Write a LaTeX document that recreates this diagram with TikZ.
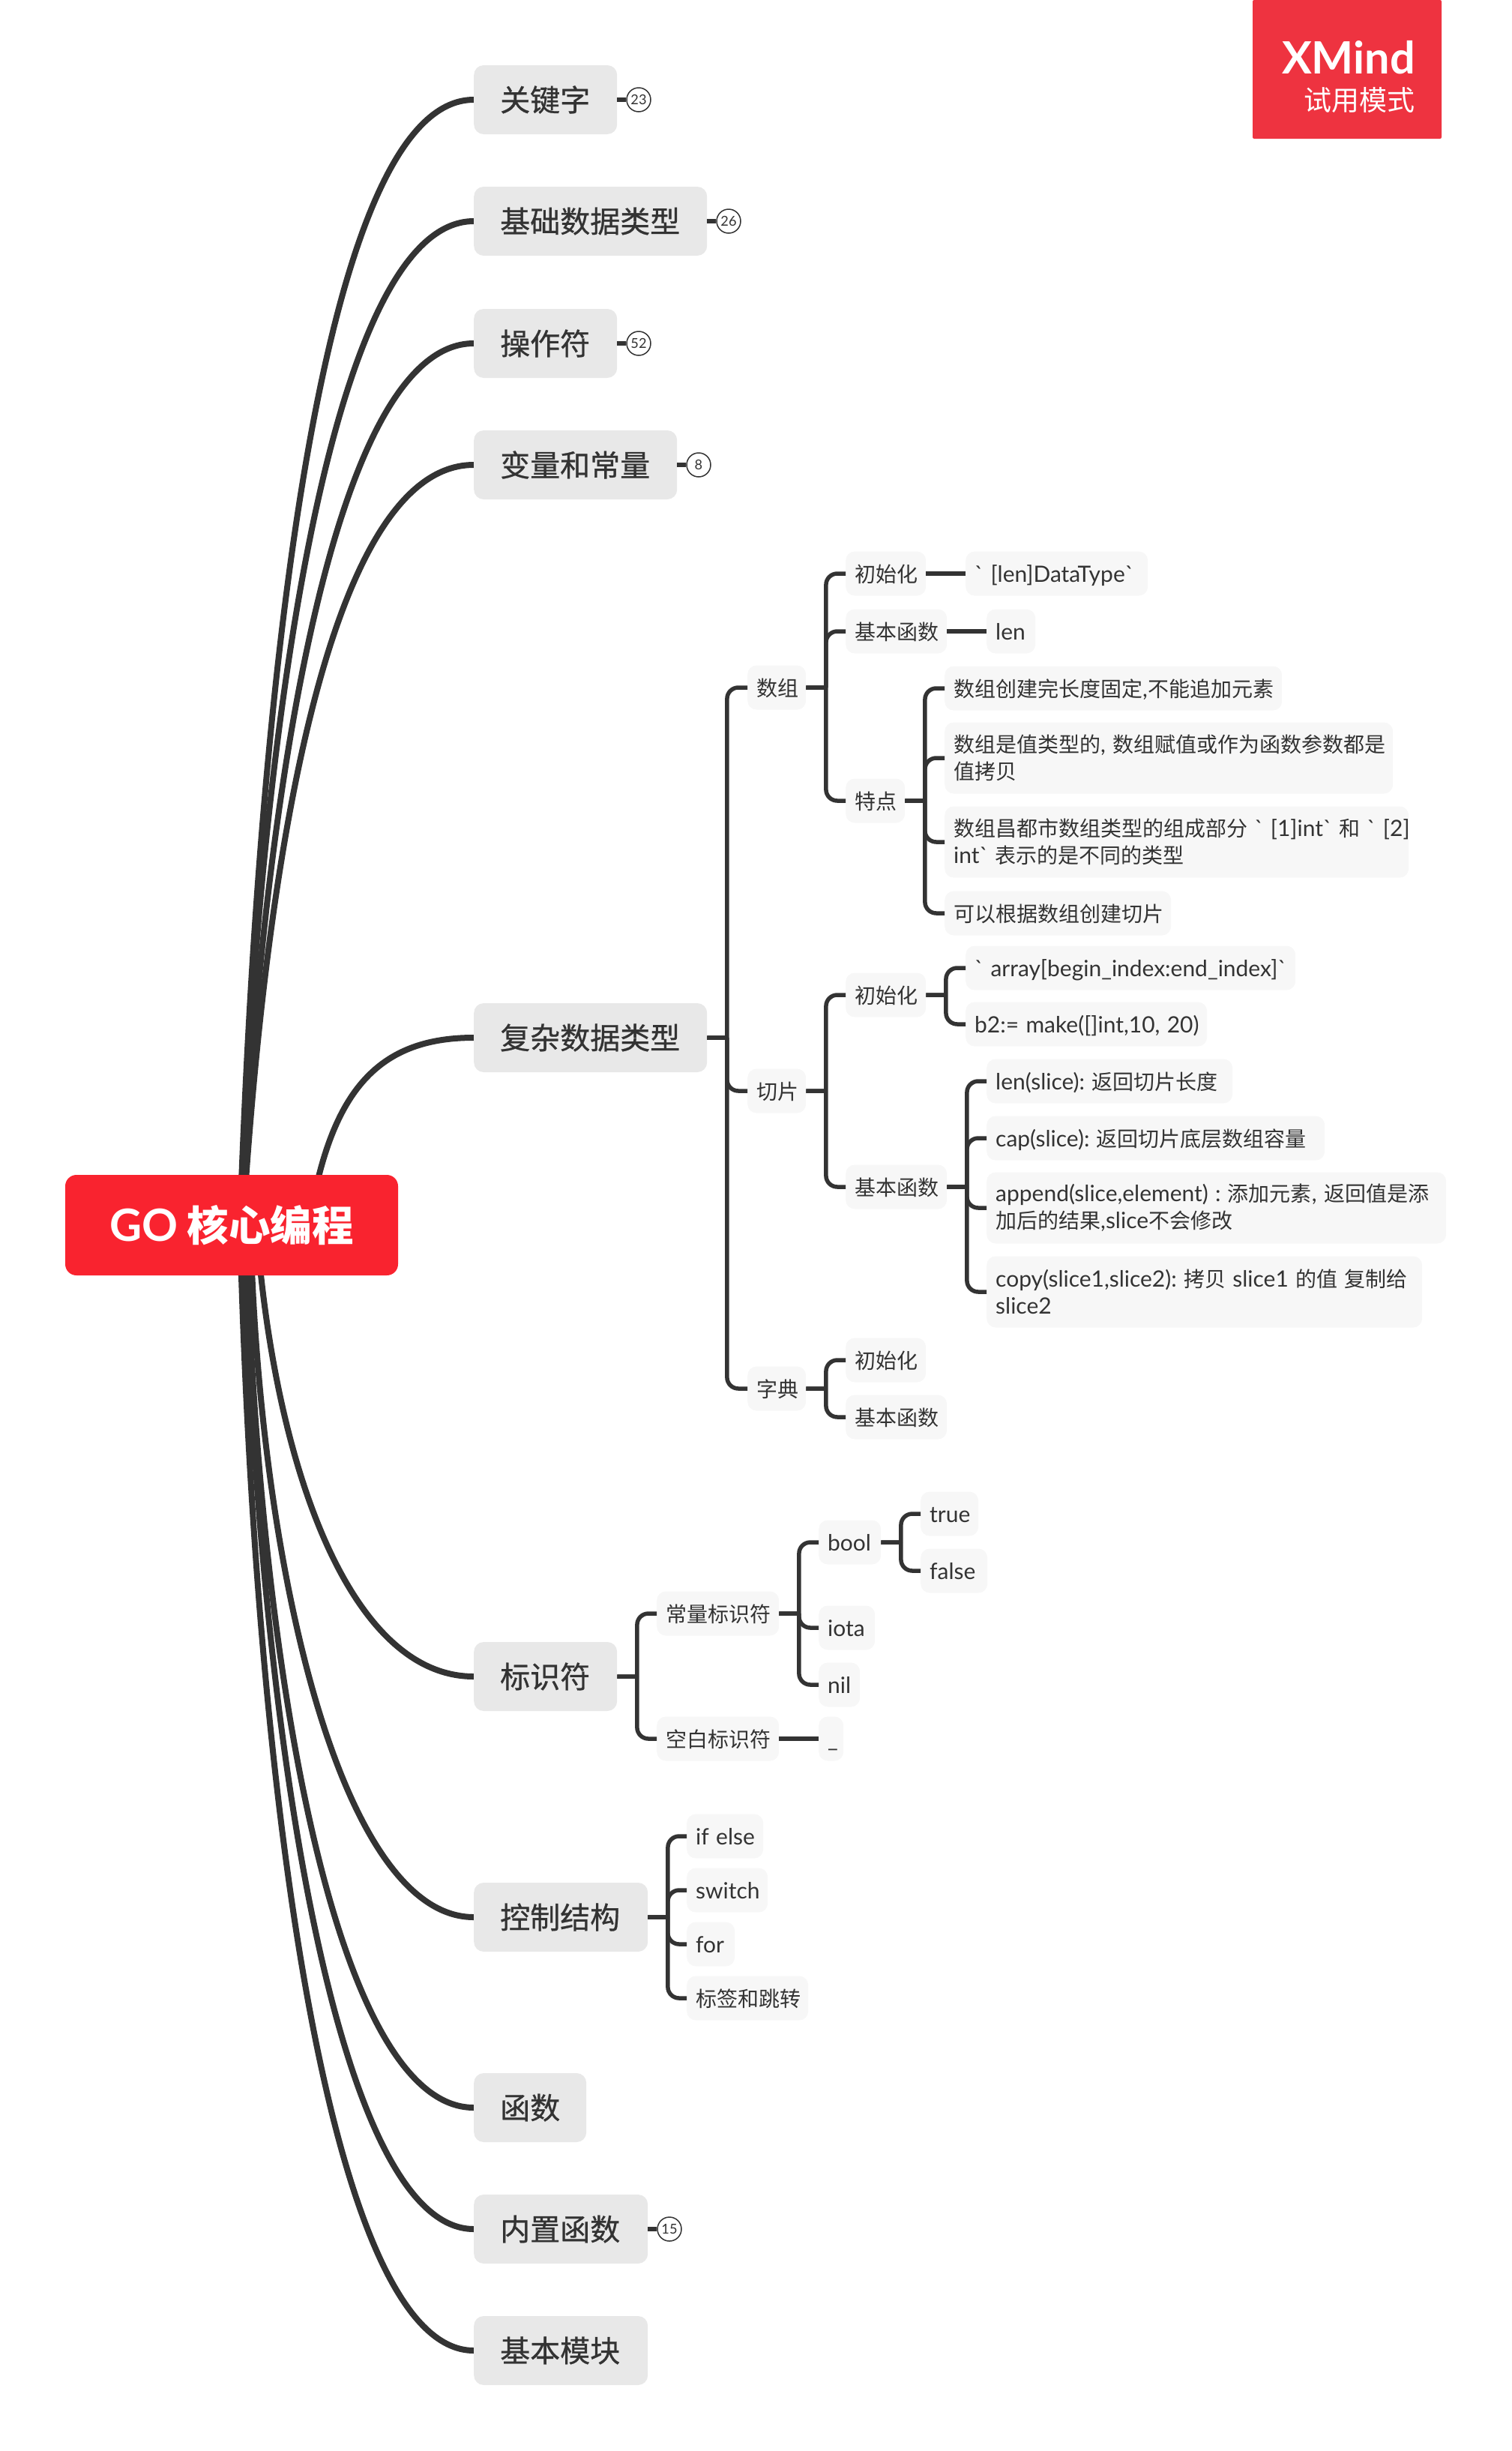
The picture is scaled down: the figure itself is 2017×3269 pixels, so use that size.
\documentclass[tikz,border=0pt]{standalone}
\usepackage{fontspec}
\setmainfont{Noto Sans CJK SC}
\newfontfamily\latinfont[Scale=1.07]{Lato}
\newfontfamily\midfont[FakeBold=0.7]{Noto Sans CJK SC}
\newcommand{\lat}[1]{\mbox{\latinfont #1}}
\usetikzlibrary{calc, backgrounds}
\definecolor{ink}{HTML}{333333}
\definecolor{rootred}{HTML}{F9232F}
\definecolor{logored}{HTML}{EE3340}
\definecolor{topicgray}{HTML}{E8E8E8}
\definecolor{subgray}{HTML}{F7F7F7}
\tikzset{
  box/.style={rectangle, inner ysep=0pt, text=ink, anchor=west, align=left},
  topic/.style={box, fill=topicgray, rounded corners=13pt, minimum height=92pt, inner xsep=35pt,
    text width=#1, font=\midfont\fontsize{40}{48}\selectfont},
  subbase/.style={box, fill=subgray, rounded corners=12pt, inner xsep=12pt,
    text width=#1, font=\fontsize{28}{36}\selectfont},
  sub/.style={subbase=#1, minimum height=59pt, text height=28.5pt, text depth=5.5pt},
  subtall/.style={subbase=#1, minimum height=95pt},
  badge/.style={circle, draw=ink, fill=white, line width=1.5pt, minimum size=32pt, inner sep=0pt,
    text=ink, font=\latinfont\fontsize{17}{20}\selectfont},
  limb/.style={draw=ink, line width=8pt},
  fork/.style={draw=ink, line width=5.5pt,
    to path={(\tikztostart.east) -- ++(26.5,0) {[rounded corners=15pt] ++(0,0) |- (\tikztotarget.west)}}},
  stub/.style={draw=ink, line width=5.5pt, to path={(\tikztostart.east) -- (\tikztotarget.west)}},
}
\begin{document}
\begin{tikzpicture}[x=1pt, y=-1pt]
  \useasboundingbox (0,0) rectangle (2017,3269);

  \node[rectangle, fill=rootred, rounded corners=15pt, minimum width=444pt, minimum height=134pt, inner sep=0pt,
    text=white, font=\fontsize{55.5}{60}\selectfont\bfseries] (root) at (309,1634) {\lat{GO} 核心编程};

  \node[topic=121pt] (t_kw)    at (632,133)  {关键字};
  \node[topic=241pt] (t_base)  at (632,295)  {基础数据类型};
  \node[topic=121pt] (t_op)    at (632,458)  {操作符};
  \node[topic=201pt] (t_var)   at (632,620)  {变量和常量};
  \node[topic=241pt] (t_cplx)  at (632,1384) {复杂数据类型};
  \node[topic=121pt] (t_ident) at (632,2236) {标识符};
  \node[topic=162pt] (t_ctrl)  at (632,2557) {控制结构};
  \node[topic=80pt]  (t_func)  at (632,2811) {函数};
  \node[topic=162pt] (t_inner) at (632,2973) {内置函数};
  \node[topic=162pt] (t_mod)   at (632,3135) {基本模块};

  % curves from the root
  \begin{scope}[on background layer]
    \foreach \name/\dx/\ax/\ay/\bx/\by in {
        t_kw/11/345/900/430/133, t_base/11/345/978/440/295,
        t_op/13/350/1058/445/458, t_var/15/355/1137/440/620,
        t_cplx/103/440/1460/500/1384,
        t_ident/33/365/1950/465/2236, t_ctrl/25/345/2090/455/2557,
        t_func/19/345/2240/450/2811, t_inner/16/345/2320/450/2973,
        t_mod/11/340/2400/440/3135}
      \draw[limb] ($(root.center)+(\dx,0)$) .. controls (\ax,\ay) and (\bx,\by) .. (\name.west);
  \end{scope}

  % counters
  \node[badge] (n_kw)    at (852,133)  {23};
  \node[badge] (n_base)  at (972,295)  {26};
  \node[badge] (n_op)    at (852,458)  {52};
  \node[badge] (n_var)   at (932,620)  {8};
  \node[badge] (n_inner) at (893,2973) {15};

  % arrays
  \node[sub=54pt]   (arr)       at (997,917)   {数组};
  \node[sub=83pt]   (arr_init)  at (1128,765)  {初始化};
  \node[sub=219pt]  (arr_type)  at (1288,765)  {\lat{` [len]DataType`}};
  \node[sub=111pt]  (arr_func)  at (1128,842)  {基本函数};
  \node[sub=41pt]   (arr_len)   at (1316,842)  {\lat{len}};
  \node[sub=55pt]   (arr_attr)  at (1128,1068) {特点};
  \node[sub=426pt]  (arr_a)     at (1260,918)  {数组创建完长度固定\lat{,}不能追加元素};
  \node[subtall=574pt] (arr_b)  at (1260,1011) {数组是值类型的\lat{,}~数组赋值或作为函数参数都是\\值拷贝};
  \node[subtall=595pt] (arr_c)  at (1260,1123) {数组昌都市数组类型的组成部分~\lat{` [1]int`}~和~\lat{` [2]}\\\lat{int`}~表示的是不同的类型};
  \node[sub=278pt]  (arr_d)     at (1260,1218) {可以根据数组创建切片};

  % slices
  \node[sub=54pt]   (sl)        at (997,1455)  {切片};
  \node[sub=83pt]   (sl_init)   at (1128,1327) {初始化};
  \node[sub=416pt]  (sl_arr)    at (1288,1291) {\lat{` array[begin\_index:end\_index]`}};
  \node[sub=298pt]  (sl_make)   at (1288,1366) {\lat{b2:= make([]int,10, 20)}};
  \node[sub=111pt]  (sl_func)   at (1128,1583) {基本函数};
  \node[sub=304pt]  (sl_len)    at (1316,1442) {\lat{len(slice):}~返回切片长度};
  \node[sub=427pt]  (sl_cap)    at (1316,1518) {\lat{cap(slice):}~返回切片底层数组容量};
  \node[subtall=589pt] (sl_app) at (1316,1611) {\lat{append(slice,element) :}~添加元素\lat{,}~返回值是添\\加后的结果\lat{,slice}不会修改};
  \node[subtall=557pt] (sl_copy) at (1316,1723) {\lat{copy(slice1,slice2):}~拷贝~\lat{slice1}~的值~复制给\\\lat{slice2}};

  % maps
  \node[sub=54pt]   (dict)      at (997,1852)  {字典};
  \node[sub=83pt]   (dict_init) at (1128,1814) {初始化};
  \node[sub=111pt]  (dict_func) at (1128,1890) {基本函数};

  % identifiers
  \node[sub=139pt]  (id_const)  at (876,2152)  {常量标识符};
  \node[sub=139pt]  (id_blank)  at (876,2319)  {空白标识符};
  \node[sub=59pt]   (id_bool)   at (1092,2057) {\lat{bool}};
  \node[sub=51pt]   (id_iota)   at (1092,2171) {\lat{iota}};
  \node[sub=31pt]   (id_nil)    at (1092,2247) {\lat{nil}};
  \node[sub=9pt]    (id_under)  at (1092,2319) {\lat{\_}};
  \node[sub=53pt]   (id_true)   at (1228,2019) {\lat{true}};
  \node[sub=65pt]   (id_false)  at (1228,2095) {\lat{false}};

  % control flow
  \node[sub=78pt]   (ct_if)     at (916,2449)  {\lat{if else}};
  \node[sub=84pt]   (ct_sw)     at (916,2521)  {\lat{switch}};
  \node[sub=40pt]   (ct_for)    at (916,2593)  {\lat{for}};
  \node[sub=138pt]  (ct_lab)    at (916,2665)  {标签和跳转};

  \path[stub]
    (t_kw) edge (n_kw)
    (t_base) edge (n_base)
    (t_op) edge (n_op)
    (t_var) edge (n_var)
    (t_inner) edge (n_inner)
    (arr_init) edge (arr_type)
    (arr_func) edge (arr_len)
    (id_blank) edge (id_under);
  \path[fork]
    (t_cplx) edge (arr) edge (sl) edge (dict)
    (arr) edge (arr_init) edge (arr_func) edge (arr_attr)
    (arr_attr) edge (arr_a) edge (arr_b) edge (arr_c) edge (arr_d)
    (sl) edge (sl_init) edge (sl_func)
    (sl_init) edge (sl_arr) edge (sl_make)
    (sl_func) edge (sl_len) edge (sl_cap) edge (sl_app) edge (sl_copy)
    (dict) edge (dict_init) edge (dict_func)
    (t_ident) edge (id_const) edge (id_blank)
    (id_const) edge (id_bool) edge (id_iota) edge (id_nil)
    (id_bool) edge (id_true) edge (id_false)
    (t_ctrl) edge (ct_if) edge (ct_sw) edge (ct_for) edge (ct_lab);

  % trial mark
  \node[rectangle, fill=logored, rounded corners=2pt, minimum width=252pt, minimum height=185pt, inner sep=0pt] (logo) at (1797,92.5) {};
  \node[anchor=base east, inner sep=0pt, text=white, font=\latinfont\fontsize{55.5}{60}\selectfont\bfseries] (logo_a) at (1888,98) {XMind};
  \node[anchor=east, inner sep=0pt, text=white, font=\fontsize{37}{40}\selectfont] (logo_b) at (1888,134) {试用模式};
\end{tikzpicture}
\end{document}
